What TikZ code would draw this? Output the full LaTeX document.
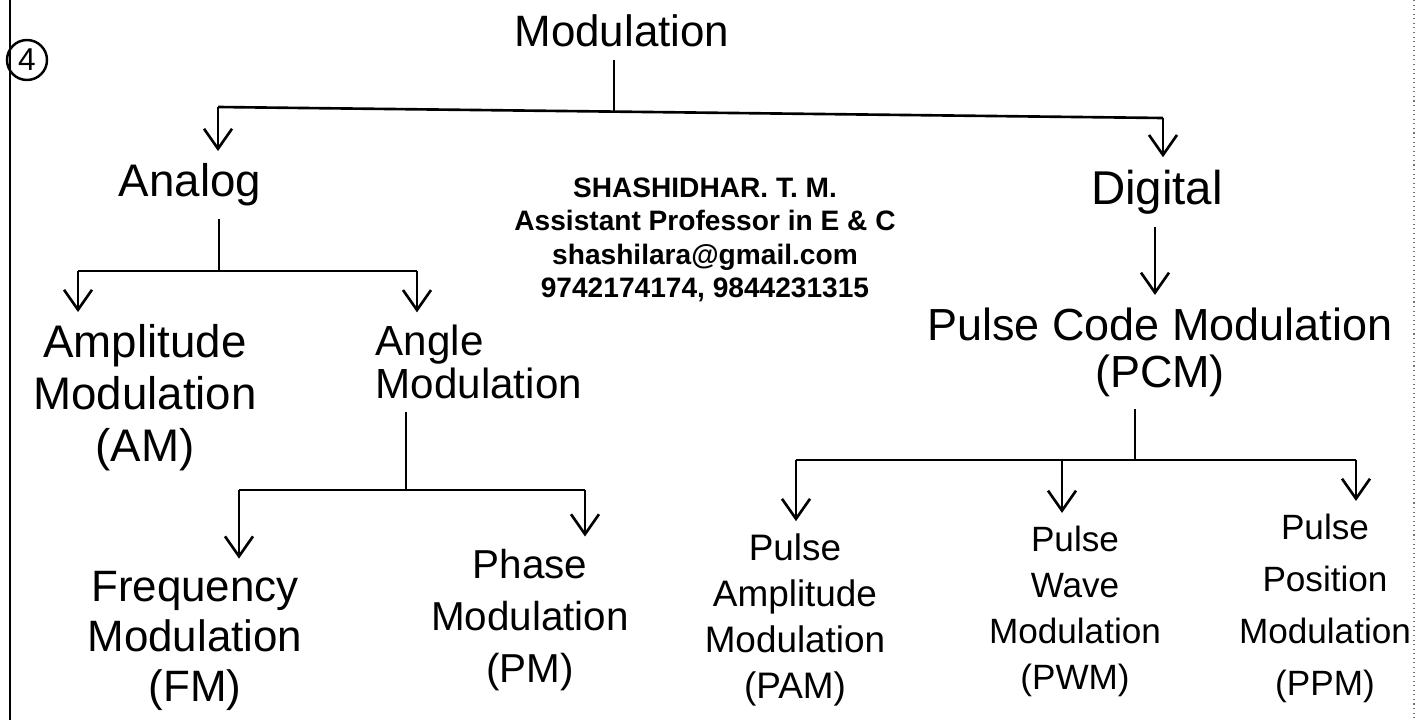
\documentclass[tikz,border=0pt]{standalone}
\usepackage{fontspec}
\setmainfont{Liberation Sans}
\usepackage{tikz}
\usetikzlibrary{arrows.meta,calc}
\newcommand{\fsz}[2]{\fontsize{#1}{#2}\selectfont}

\begin{document}
\begin{tikzpicture}[x=0.02cm,y=-0.02cm,
  txt/.style={align=center,inner sep=7pt},
  wire/.style={line width=1.5pt},
  arr/.style={wire,-{Straight Barb[length=4mm,width=5.6mm]}}]
  \useasboundingbox (0,0) rectangle (1424,720);
  \draw[line width=1.4pt] (10,0) -- (10,720);
  \draw[dotted,line width=0.6pt,black!55] (1414,0) -- (1414,720);
  \node[circle,draw,line width=1.4pt,minimum size=0.8cm,inner sep=0pt,font=\fsz{18}{20}] (num) at (27,60) {4};

  \node[txt,font=\fsz{25}{29}] (mod) at (622,31) {Modulation};
  \node[txt,font=\fsz{26}{30}] (ana) at (190,185) {Analog};
  \node[txt,font=\fsz{27}{31}] (dig) at (1157,192) {Digital};
  \node[txt,font=\fsz{26}{29.6}] (am) at (145,398) {Amplitude\\Modulation\\(AM)};
  \node[txt,font=\fsz{24}{24.5},align=left,anchor=west] (ang) at (363,362) {Angle\\Modulation};
  \node[txt,font=\fsz{25}{28.5}] (fm) at (195,641) {Frequency\\Modulation\\(FM)};
  \node[txt,font=\fsz{23}{29.6}] (pm) at (530,620) {Phase\\Modulation\\(PM)};
  \node[txt,font=\fsz{25.6}{26.7}] (pcm) at (1160,352) {Pulse Code Modulation\\(PCM)};
  \node[txt,font=\fsz{21}{26.2}] (pam) at (795,620) {Pulse\\Amplitude\\Modulation\\(PAM)};
  \node[txt,font=\fsz{20}{26.2}] (pwm) at (1075,611) {Pulse\\Wave\\Modulation\\(PWM)};
  \node[txt,font=\fsz{20}{29.6}] (ppm) at (1325,608) {Pulse\\Position\\Modulation\\(PPM)};

  \node[font=\fsz{16}{19}\bfseries,align=center] (wm) at (705,240)
    {SHASHIDHAR. T. M.\\Assistant Professor in E \& C\\shashilara@gmail.com\\9742174174, 9844231315};

  \coordinate (tl) at (218,107);
  \coordinate (tr) at (1163,118);
  \coordinate (t) at ($(tl)!0.419!(tr)$);
  \draw[wire] (mod.south -| t) -- (t);
  \draw[wire] (tl) -- (tr);
  \draw[arr] (tl) -- (tl |- ana.north);
  \draw[arr] (tr) -- (tr |- dig.north);

  \coordinate (a) at (219,271);
  \coordinate (al) at (78,271);
  \coordinate (ar) at (417,271);
  \draw[wire] (ana.south -| a) -- (a);
  \draw[wire] (al) -- (ar);
  \draw[arr] (al) -- (al |- am.north);
  \draw[arr] (ar) -- (ar |- ang.north);

  \coordinate (g) at (406,490);
  \coordinate (gl) at (239,490);
  \coordinate (gr) at (585,490);
  \draw[wire] (ang.south -| g) -- (g);
  \draw[wire] (gl) -- (gr);
  \draw[arr] (gl) -- (gl |- fm.north);
  \draw[arr] (gr) -- (gr |- pm.north);

  \coordinate (d) at (1155,292);
  \draw[arr] (dig.south -| d) -- (d |- pcm.north);

  \coordinate (p) at (1135,460);
  \coordinate (pl) at (796,460);
  \coordinate (pc) at (1062,460);
  \coordinate (pr) at (1356,460);
  \draw[wire] (pcm.south -| p) -- (p);
  \draw[wire] (pl) -- (pr);
  \draw[arr] (pl) -- (pl |- pam.north);
  \draw[arr] (pc) -- (pc |- pwm.north);
  \draw[arr] (pr) -- (pr |- ppm.north);
\end{tikzpicture}
\end{document}
